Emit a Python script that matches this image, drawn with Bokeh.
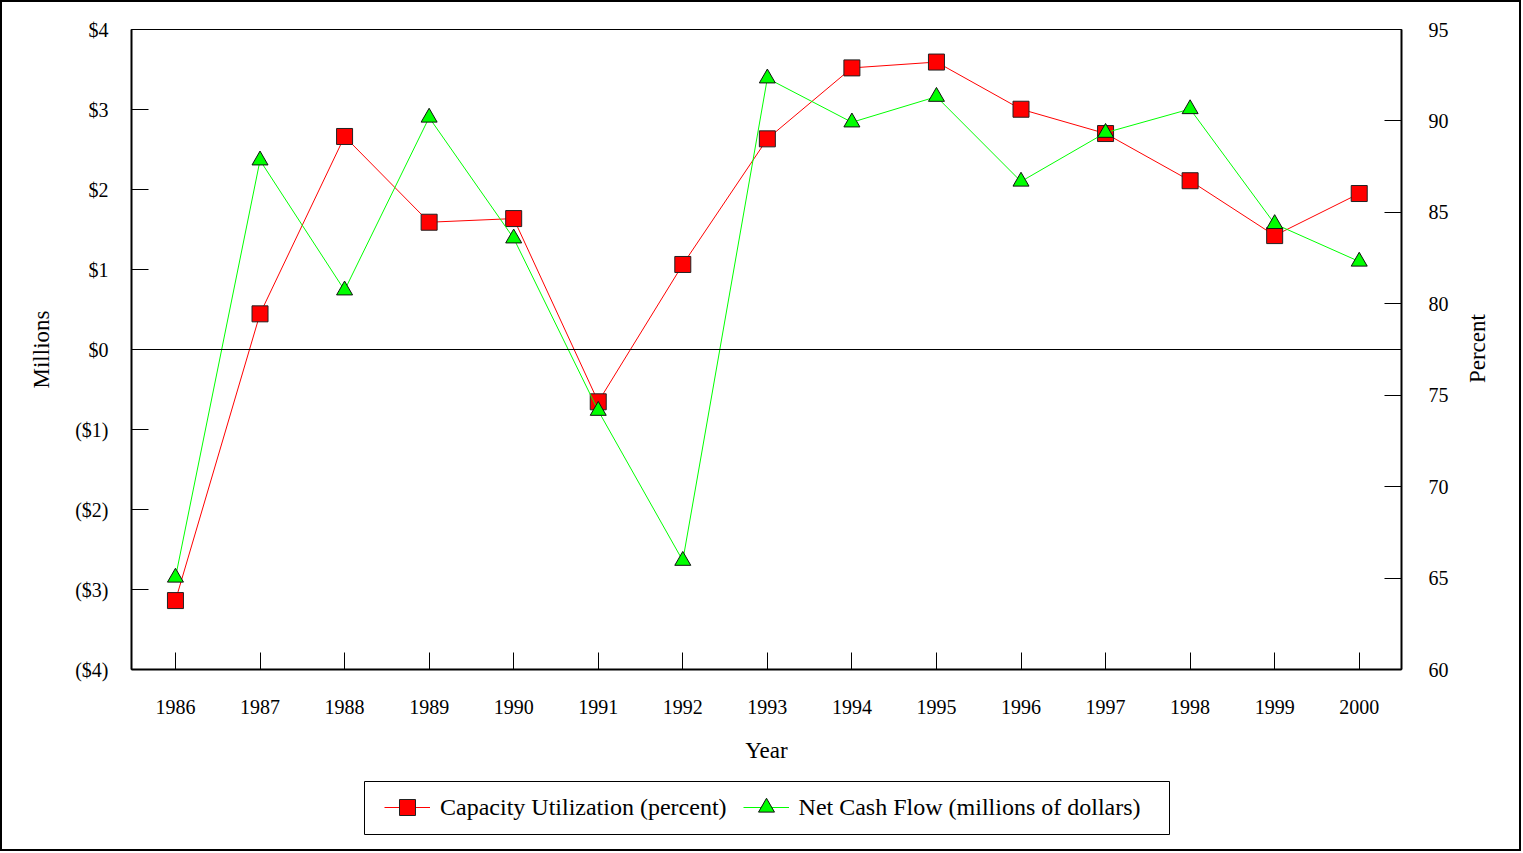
import math
from bokeh.plotting import figure
from bokeh.layouts import column
from bokeh.models import (Range1d, LinearAxis, FixedTicker, Span, Legend, LegendItem,
                          BoxAnnotation, Label)
from bokeh.embed import file_html
from bokeh.resources import INLINE

years = list(range(1986, 2001))
capacity_pct = [63.77, 79.45, 89.15, 84.46, 84.66, 74.64, 82.15, 89.02,
                92.90, 93.22, 90.64, 89.31, 86.73, 83.73, 86.03]
net_cash = [-2.85, 2.365, 0.74, 2.90, 1.39, -0.765, -2.64, 3.39,
            2.84, 3.16, 2.10, 2.71, 3.006, 1.57, 1.10]
left_ticks = [-4, -3, -2, -1, 0, 1, 2, 3, 4]
left_labels = ["($4)", "($3)", "($2)", "($1)", "$0", "$1", "$2", "$3", "$4"]
right_ticks = [60, 65, 70, 75, 80, 85, 90, 95]
series_names = ["Capacity Utilization (percent)", "Net Cash Flow (millions of dollars)"]

FONT = "Liberation Serif"
RED = "#FF0000"
GREEN = "#00FF00"

p = figure(frame_width=1270, frame_height=640, output_backend="svg", toolbar_location=None,
           x_range=Range1d(1985.48, 2000.5), y_range=Range1d(-4, 4),
           min_border_left=129, min_border_right=118, min_border_top=27,
           min_border_bottom=130)
p.extra_y_ranges = {"pct": Range1d(60, 95)}
p.background_fill_color = "white"
p.border_fill_color = "white"
p.outline_line_color = "black"
p.outline_line_width = 1
p.xgrid.visible = False
p.ygrid.visible = False

def style_axis(ax):
    ax.axis_line_color = "black"
    ax.axis_line_width = 2
    ax.major_tick_in = 17
    ax.major_tick_out = 0
    ax.major_tick_line_color = "black"
    ax.minor_tick_line_color = None
    ax.major_label_text_font = FONT
    ax.major_label_text_font_size = "20px"
    ax.major_label_text_color = "black"
    ax.axis_label_text_font = FONT
    ax.axis_label_text_font_size = "23px"
    ax.axis_label_text_font_style = "normal"
    ax.axis_label_text_color = "black"

xax = p.xaxis[0]
style_axis(xax)
xax.ticker = FixedTicker(ticks=years)
xax.axis_label = "Year"
xax.major_label_standoff = 30
xax.axis_label_standoff = 21

yax = p.yaxis[0]
style_axis(yax)
yax.ticker = FixedTicker(ticks=left_ticks)
yax.major_label_overrides = {t: l for t, l in zip(left_ticks, left_labels)}
yax.axis_label = "Millions"
yax.major_label_standoff = 23
yax.axis_label_standoff = 18

rax = LinearAxis(y_range_name="pct")
style_axis(rax)
rax.ticker = FixedTicker(ticks=right_ticks)
rax.major_label_standoff = 27
p.add_layout(rax, "right")

# right axis title, reading bottom-to-top like the reference
ptitle = Label(text="Percent", x=26, x_units="screen", y=77.55, y_range_name="pct",
               angle=math.pi / 2, text_align="center", text_baseline="middle",
               text_font=FONT, text_font_size="23px", text_color="black")
p.add_layout(ptitle, "right")

p.add_layout(Span(location=0, dimension="width", line_color="black", line_width=1))

p.line(years, capacity_pct, y_range_name="pct", line_color=RED, line_width=1)
p.scatter(years, capacity_pct, y_range_name="pct", marker="square", size=16,
          fill_color=RED, line_color="#222222", line_width=1)
p.line(years, net_cash, line_color=GREEN, line_width=1)
p.scatter(years, net_cash, marker="triangle", size=16,
          fill_color=GREEN, line_color="#111111", line_width=1)

# legend strip (pulled up slightly so it sits just under the axis title)
p2 = figure(width=1517, height=77, output_backend="svg", toolbar_location=None,
            x_range=Range1d(0, 1), y_range=Range1d(0, 1),
            x_axis_location=None, y_axis_location=None,
            min_border_left=0, min_border_right=0, min_border_top=0, min_border_bottom=0,
            margin=(-27, 0, 0, 0))
p2.outline_line_color = None
p2.xgrid.visible = False
p2.ygrid.visible = False
p2.background_fill_alpha = 0
p2.border_fill_alpha = 0

box = BoxAnnotation(left=233, right=1038, top=68, bottom=15,
                    left_units="screen", right_units="screen",
                    top_units="screen", bottom_units="screen",
                    fill_color="white", fill_alpha=1,
                    line_color="black", line_width=1, line_alpha=1)
p2.add_layout(box)

dl1 = p2.line([-5, -4], [-5, -4], line_color=RED, line_width=1)
ds1 = p2.scatter([-5], [-5], marker="square", size=16, fill_color=RED,
                 line_color="#222222", line_width=1)
dl2 = p2.line([-5, -4], [-5, -4], line_color=GREEN, line_width=1)
ds2 = p2.scatter([-5], [-5], marker="triangle", size=16, fill_color=GREEN,
                 line_color="#111111", line_width=1)

legend = Legend(items=[
    LegendItem(label=series_names[0], renderers=[dl1, ds1]),
    LegendItem(label=series_names[1], renderers=[dl2, ds2]),
], orientation="horizontal", location=(253, 22),
    border_line_color=None, background_fill_alpha=0,
    label_text_font=FONT, label_text_font_size="24px", label_text_color="black",
    glyph_width=46, glyph_height=40, padding=20, spacing=16, label_standoff=10,
    margin=0)
p2.add_layout(legend, "center")

layout = column(p, p2, spacing=0, styles={"border": "2px solid black"})

open("out.html", "w").write(file_html(layout, INLINE))
